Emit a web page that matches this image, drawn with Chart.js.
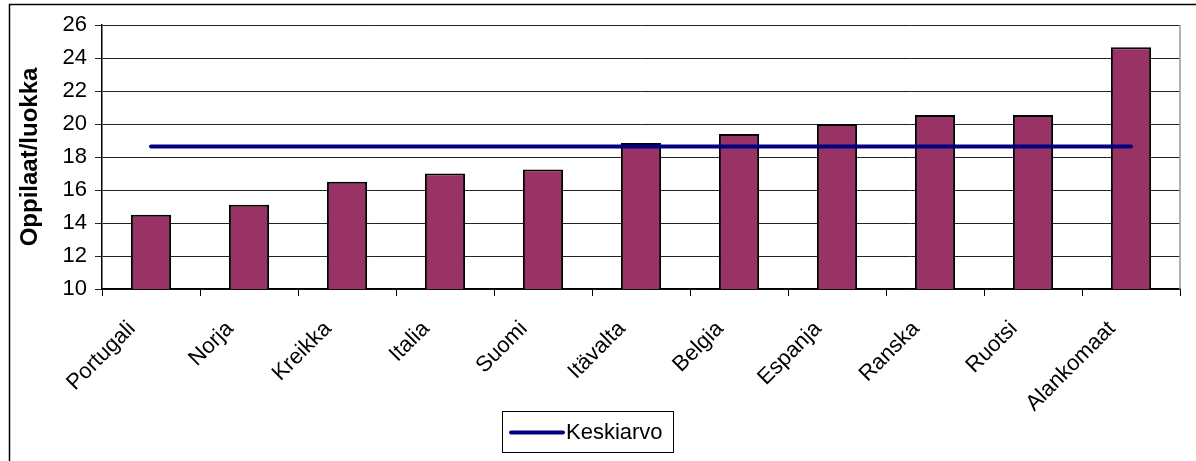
<!DOCTYPE html>
<html>
<head>
<meta charset="utf-8">
<script src="https://cdn.jsdelivr.net/npm/chart.js@4/dist/chart.umd.min.js"></script>
<style>
  html, body { margin:0; padding:0; background:#fff; }
  #wrap { width:1196px; height:461px; }
</style>
</head>
<body>
<div id="wrap"><canvas id="c" width="1196" height="461"></canvas></div>
<script>
// ====== Data ======
const countries = ['Portugali','Norja','Kreikka','Italia','Suomi','Itävalta','Belgia','Espanja','Ranska','Ruotsi','Alankomaat'];
const pupilsPerClass = [14.5, 15.1, 16.5, 17.0, 17.25, 18.85, 19.4, 20.0, 20.55, 20.55, 24.65];
const average = [18.63, 18.63, 18.63, 18.63, 18.63, 18.63, 18.63, 18.63, 18.63, 18.63, 18.63];
const yTicks = [10, 12, 14, 16, 18, 20, 22, 24, 26];
const yTitle = 'Oppilaat/luokka';
const avgLabel = 'Keskiarvo';

const FONT = "'Liberation Sans', Arial, sans-serif";

// ====== Frame + legend box (drawn after the chart) ======
const framePlugin = {
  id: 'frame',
  afterDraw(chart){
    const { ctx, chartArea: a } = chart;
    ctx.save();
    // plot area right border (grey)
    ctx.strokeStyle = '#999'; ctx.lineWidth = 1.5;
    ctx.beginPath(); ctx.moveTo(a.right, a.top); ctx.lineTo(a.right, a.bottom); ctx.stroke();
    // outer frame (left + top)
    ctx.strokeStyle = '#000'; ctx.lineWidth = 1.5;
    ctx.beginPath(); ctx.moveTo(9.5, 461); ctx.lineTo(9.5, 4.5); ctx.lineTo(1196, 4.5); ctx.stroke();
    // legend
    const ds = chart.data.datasets[0];
    const bx = 502, by = 411, bw = 171, bh = 41;
    ctx.lineWidth = 1; ctx.strokeStyle = '#000';
    ctx.strokeRect(bx + 0.5, by + 0.5, bw, bh);
    ctx.strokeStyle = ds.borderColor; ctx.lineWidth = 4; ctx.lineCap = 'round';
    ctx.beginPath(); ctx.moveTo(511, by + bh/2 + 1); ctx.lineTo(563, by + bh/2 + 1); ctx.stroke();
    ctx.fillStyle = '#000'; ctx.font = '22px ' + FONT; ctx.textBaseline = 'middle'; ctx.textAlign = 'left';
    ctx.fillText(ds.label, 566, by + bh/2 + 1);
    ctx.restore();
  }
};

new Chart(document.getElementById('c'), {
  data: {
    labels: countries,
    datasets: [
      { type:'line', label: avgLabel, data: average, borderColor:'#000080', borderWidth:4,
        pointRadius:0, pointHoverRadius:0, fill:false, order:0, borderCapStyle:'round' },
      { type:'bar', label:'Oppilaat', data: pupilsPerClass, backgroundColor:'#993366',
        borderColor:'#000', borderWidth:2, categoryPercentage:1, barPercentage:0.41, order:1 }
    ]
  },
  options: {
    responsive:false,
    animation:false,
    layout:{ padding:{ left:10, top:25, right:16, bottom:0 } },
    plugins:{ legend:{ display:false }, tooltip:{ enabled:false } },
    scales:{
      x:{
        offset:true,
        grid:{ offset:true, drawOnChartArea:false, drawTicks:true, tickLength:7, color:'#000', lineWidth:1 },
        border:{ color:'#000', width:1.5 },
        ticks:{ color:'#000', font:{ family:FONT, size:22 }, minRotation:45, maxRotation:45, autoSkip:false, padding:20, labelOffset:-19 },
        afterFit(s){ s.height = 172; }
      },
      y:{
        min:10, max:26,
        afterBuildTicks(s){ s.ticks = yTicks.map(v => ({ value:v })); },
        grid:{ color:'#222', lineWidth:1, tickLength:7 },
        border:{ color:'#000', width:1.5 },
        ticks:{ color:'#000', font:{ family:FONT, size:22 }, padding:8 },
        title:{ display:true, text:yTitle, color:'#000', font:{ family:FONT, size:24, weight:'bold' }, padding:{ top:6, bottom:0 } },
        afterFit(s){ s.width = 92; }
      }
    }
  },
  plugins:[framePlugin]
});
</script>
</body>
</html>
